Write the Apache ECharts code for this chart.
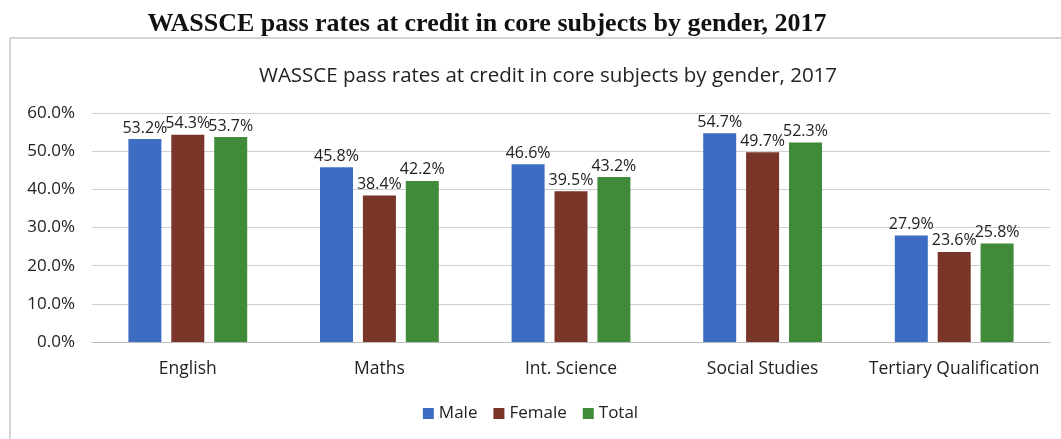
<!DOCTYPE html>
<html><head><meta charset="utf-8">
<script src="https://cdn.jsdelivr.net/npm/echarts@6/dist/echarts.min.js"></script>
<style>html,body{margin:0;padding:0;background:#fff;}#c{width:1061px;height:439px;}</style>
</head><body><div id="c"></div>
<script>
const categories = ['English','Maths','Int. Science','Social Studies','Tertiary Qualification'];
const male = [53.2, 45.8, 46.6, 54.7, 27.9];
const female = [54.3, 38.4, 39.5, 49.7, 23.6];
const total = [53.7, 42.2, 43.2, 52.3, 25.8];
const seriesNames = ['Male','Female','Total'];
const colors = ['#3d6dc2','#7a3529','#3f8b39'];
const font = '"Open Sans", "Noto Sans", sans-serif';

const chart = echarts.init(document.getElementById('c'));
const mk = (name, data, i) => ({
  name, type: 'bar', data, barWidth: 33, barGap: '30%',
  itemStyle: { color: colors[i] },
  label: { show: true, position: 'top', distance: 3, color: '#222', fontSize: 16, fontFamily: font,
    formatter: p => p.value.toFixed(1) + '%' }
});
chart.setOption({
  animation: false,
  title: [
    { text: 'WASSCE pass rates at credit in core subjects by gender, 2017', left: 482, top: 6, textAlign: 'center',
      textStyle: { fontFamily: '"Liberation Serif", serif', fontWeight: 'bold', fontSize: 26, color: '#111' } },
    { text: 'WASSCE pass rates at credit in core subjects by gender, 2017', left: 543, top: 61, textAlign: 'center',
      textStyle: { fontFamily: font, fontWeight: 'normal', fontSize: 20.5, color: '#222' } }
  ],
  graphic: [
    { type: 'line', shape: { x1: 10, y1: 38, x2: 1061, y2: 38 }, style: { stroke: '#aaa', lineWidth: 1 } },
    { type: 'line', shape: { x1: 10, y1: 38, x2: 10, y2: 439 }, style: { stroke: '#aaa', lineWidth: 1 } }
  ],
  legend: { data: seriesNames, bottom: 12, left: 'center', itemWidth: 11, itemHeight: 11, itemGap: 16,
    icon: 'rect', textStyle: { fontFamily: font, fontSize: 17, color: '#222' } },
  grid: { left: 92, right: 11, top: 113, bottom: 97 },
  xAxis: { type: 'category', data: categories,
    axisLine: { lineStyle: { color: '#bbb' } }, axisTick: { show: false },
    axisLabel: { interval: 0, fontFamily: font, fontSize: 17.5, color: '#222', margin: 18 } },
  yAxis: { type: 'value', min: 0, max: 60, interval: 10,
    axisLabel: { fontFamily: font, fontSize: 17, color: '#222', margin: 17, formatter: v => v.toFixed(1) + '%' },
    splitLine: { lineStyle: { color: '#cfcfcf' } }, axisLine: { show: false }, axisTick: { show: false } },
  series: [mk('Male', male, 0), mk('Female', female, 1), mk('Total', total, 2)]
});
</script></body></html>
